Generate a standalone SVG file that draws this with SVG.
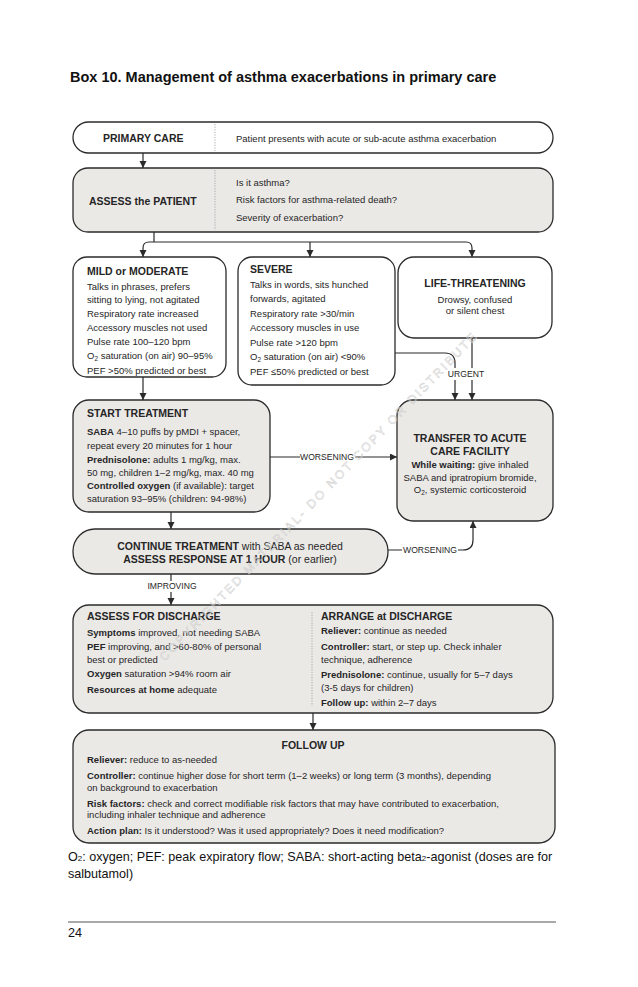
<svg xmlns="http://www.w3.org/2000/svg" width="638" height="987" viewBox="0 0 638 987">
<style>
.b{fill:#fff;stroke:#2b2b2b;stroke-width:1.3}
.g{fill:#ebe9e6;stroke:#2b2b2b;stroke-width:1.3}
.c{fill:none;stroke:#2b2b2b;stroke-width:1.2}
.d{stroke:#9a9a9a;stroke-width:0.8;stroke-dasharray:1.2 1.4}
text{font-family:"Liberation Sans",Arial,sans-serif;fill:#262626;font-size:9.5px}
.h{font-weight:bold;font-size:10.5px}
.k{font-weight:bold}
.m{text-anchor:middle}
.lab{font-size:8.6px;text-anchor:middle}
.sub{font-size:6.5px}
</style>
<defs>
<marker id="ar" markerUnits="userSpaceOnUse" markerWidth="7" markerHeight="8" refX="7" refY="3.5" orient="auto">
<path d="M0,0 L7,3.5 L0,7 z" fill="#2b2b2b"/>
</marker>
</defs>
<rect width="638" height="987" fill="#fff"/>
<text x="70" y="82" style="font-size:14.5px;font-weight:bold;fill:#111">Box 10. Management of asthma exacerbations in primary care</text>

<g id="connectors">
<path class="c" d="M143,153 V168" marker-end="url(#ar)"/>
<path class="c" d="M154,232 V242"/>
<path class="c" d="M154,242 H149 Q143,242 143,248 V257" marker-end="url(#ar)"/>
<path class="c" d="M154,242 H466 Q472,242 472,248 V257" marker-end="url(#ar)"/>
<path class="c" d="M310,242 V257" marker-end="url(#ar)"/>
<path class="c" d="M143,377 V400" marker-end="url(#ar)"/>
<path class="c" d="M270,457 H397" marker-end="url(#ar)"/>
<path class="c" d="M171,512 V529" marker-end="url(#ar)"/>
<path class="c" d="M395,353 H445 Q455,353 455,363 V400" marker-end="url(#ar)"/>
<path class="c" d="M472,338 V400" marker-end="url(#ar)"/>
<path class="c" d="M388,550 H463 Q473,550 473,540 V521" marker-end="url(#ar)"/>
<path class="c" d="M171,574 V605" marker-end="url(#ar)"/>
<path class="c" d="M313,713 V730" marker-end="url(#ar)"/>
<rect x="300" y="450" width="55" height="13" fill="#fff"/>
<text class="lab" x="327" y="460">WORSENING</text>
<rect x="446" y="368" width="40" height="12" fill="#fff"/>
<text class="lab" x="466" y="377">URGENT</text>
<rect x="402" y="544" width="56" height="13" fill="#fff"/>
<text class="lab" x="430" y="553">WORSENING</text>
<rect x="146" y="581" width="52" height="11" fill="#fff"/>
<text class="lab" x="172" y="589">IMPROVING</text>
</g>

<g id="primary-care">
<rect class="b" x="73" y="122" width="480" height="31" rx="15.5"/>
<line class="d" x1="215" y1="124" x2="215" y2="151"/>
<text class="h" x="103" y="142">PRIMARY CARE</text>
<text x="236" y="142">Patient presents with acute or sub-acute asthma exacerbation</text>
</g>

<g id="assess-patient">
<rect class="g" x="73" y="168" width="480" height="64" rx="15"/>
<line class="d" x1="215" y1="170" x2="215" y2="230"/>
<text class="h" x="89" y="205">ASSESS the PATIENT</text>
<text x="236" y="186">Is it asthma?</text>
<text x="236" y="203">Risk factors for asthma-related death?</text>
<text x="236" y="221">Severity of exacerbation?</text>
</g>

<g id="mild-moderate">
<rect class="b" x="73" y="257" width="153" height="120" rx="14"/>
<text class="h" x="87" y="275">MILD or MODERATE</text>
<text x="87" y="290">Talks in phrases, prefers</text>
<text x="87" y="303">sitting to lying, not agitated</text>
<text x="87" y="317">Respiratory rate increased</text>
<text x="87" y="331">Accessory muscles not used</text>
<text x="87" y="345">Pulse rate 100–120 bpm</text>
<text x="87" y="359">O<tspan class="sub" dy="2">2</tspan><tspan dy="-2"> saturation (on air) 90–95%</tspan></text>
<text x="87" y="374">PEF &gt;50% predicted or best</text>
</g>

<g id="severe">
<rect class="b" x="238" y="257" width="157" height="128" rx="14"/>
<text class="h" x="250" y="273">SEVERE</text>
<text x="250" y="288">Talks in words, sits hunched</text>
<text x="250" y="302">forwards, agitated</text>
<text x="250" y="317">Respiratory rate &gt;30/min</text>
<text x="250" y="331">Accessory muscles in use</text>
<text x="250" y="346">Pulse rate &gt;120 bpm</text>
<text x="250" y="360">O<tspan class="sub" dy="2">2</tspan><tspan dy="-2"> saturation (on air) &lt;90%</tspan></text>
<text x="250" y="375">PEF ≤50% predicted or best</text>
</g>

<g id="life-threatening">
<rect class="b" x="398" y="257" width="154" height="81" rx="16"/>
<text class="h m" x="475" y="287">LIFE-THREATENING</text>
<text class="m" x="475" y="303">Drowsy, confused</text>
<text class="m" x="475" y="314">or silent chest</text>
</g>

<g id="start-treatment">
<rect class="g" x="73" y="400" width="197" height="112" rx="16"/>
<text class="h" x="87" y="417">START TREATMENT</text>
<text x="87" y="435"><tspan class="k">SABA</tspan>  4–10 puffs by pMDI  + spacer,</text>
<text x="87" y="449">repeat every 20 minutes for 1 hour</text>
<text x="87" y="463"><tspan class="k">Prednisolone:</tspan> adults 1 mg/kg, max.</text>
<text x="87" y="476">50 mg, children 1–2 mg/kg, max.  40 mg</text>
<text x="87" y="489"><tspan class="k">Controlled oxygen</tspan> (if available): target</text>
<text x="87" y="502">saturation 93–95% (children: 94-98%)</text>
</g>

<g id="transfer">
<rect class="g" x="397" y="400" width="156" height="121" rx="16"/>
<text class="h m" x="470" y="442">TRANSFER TO ACUTE</text>
<text class="h m" x="470" y="455">CARE FACILITY</text>
<text class="m" x="470" y="468"><tspan class="k">While waiting:</tspan> give inhaled</text>
<text class="m" x="470" y="481">SABA  and ipratropium bromide,</text>
<text class="m" x="470" y="493">O<tspan class="sub" dy="2">2</tspan><tspan dy="-2">, systemic  corticosteroid</tspan></text>
</g>

<g id="continue-treatment">
<rect class="g" x="73" y="529" width="315" height="45" rx="22"/>
<text class="m" x="230" y="550" style="font-size:10.5px"><tspan class="k">CONTINUE TREATMENT</tspan> with SABA as needed</text>
<text class="m" x="230" y="563" style="font-size:10.5px"><tspan class="k">ASSESS RESPONSE AT 1 HOUR</tspan> (or earlier)</text>
</g>

<g id="discharge">
<rect class="g" x="73" y="605" width="480" height="108" rx="16"/>
<line class="d" x1="312" y1="612" x2="312" y2="706"/>
<text class="h" x="87" y="620">ASSESS FOR DISCHARGE</text>
<text x="87" y="636"><tspan class="k">Symptoms</tspan>  improved, not needing SABA</text>
<text x="87" y="650"><tspan class="k">PEF</tspan> improving, and &gt;60-80% of personal</text>
<text x="87" y="663">best or predicted</text>
<text x="87" y="677"><tspan class="k">Oxygen</tspan> saturation &gt;94% room air</text>
<text x="87" y="693"><tspan class="k">Resources at home</tspan> adequate</text>
<text class="h" x="321" y="620">ARRANGE at DISCHARGE</text>
<text x="321" y="634"><tspan class="k">Reliever:</tspan> continue as needed</text>
<text x="321" y="650"><tspan class="k">Controller:</tspan> start, or step up. Check inhaler</text>
<text x="321" y="663">technique, adherence</text>
<text x="321" y="678"><tspan class="k">Prednisolone:</tspan> continue, usually for 5–7 days</text>
<text x="321" y="691">(3-5 days for children)</text>
<text x="321" y="706"><tspan class="k">Follow up:</tspan> within  2–7 days</text>
</g>

<g id="follow-up">
<rect class="g" x="73" y="730" width="482" height="113" rx="16"/>
<text class="h m" x="313" y="749">FOLLOW UP</text>
<text x="87" y="763"><tspan class="k">Reliever:</tspan> reduce to as-needed</text>
<text x="87" y="779"><tspan class="k">Controller:</tspan> continue higher dose for short term (1–2 weeks) or long term (3 months), depending</text>
<text x="87" y="791">on background to exacerbation</text>
<text x="87" y="807"><tspan class="k">Risk factors:</tspan> check and correct modifiable risk factors that may have contributed to exacerbation,</text>
<text x="87" y="818">including inhaler technique and adherence</text>
<text x="87" y="834"><tspan class="k">Action plan:</tspan> Is it understood? Was it used appropriately? Does it need modification?</text>
</g>

<text x="318" y="501" transform="rotate(-46 318 497)" text-anchor="middle" textLength="450" lengthAdjust="spacing" style="font-size:12px;fill:none;stroke:#cfcfcf;stroke-width:0.5">COPYRIGHTED MATERIAL- DO NOT COPY OR DISTRIBUTE</text>

<g id="footnote">
<text x="68" y="861" style="font-size:12.6px;fill:#111">O<tspan style="font-size:8px">2</tspan>: oxygen; PEF: peak expiratory flow; SABA: short-acting beta<tspan style="font-size:8px">2</tspan>-agonist (doses are for</text>
<text x="68" y="878" style="font-size:12.6px;fill:#111">salbutamol)</text>
<line x1="68" y1="922" x2="556" y2="922" stroke="#555" stroke-width="1"/>
<text x="68" y="937" style="font-size:12.6px;fill:#111">24</text>
</g>
</svg>
